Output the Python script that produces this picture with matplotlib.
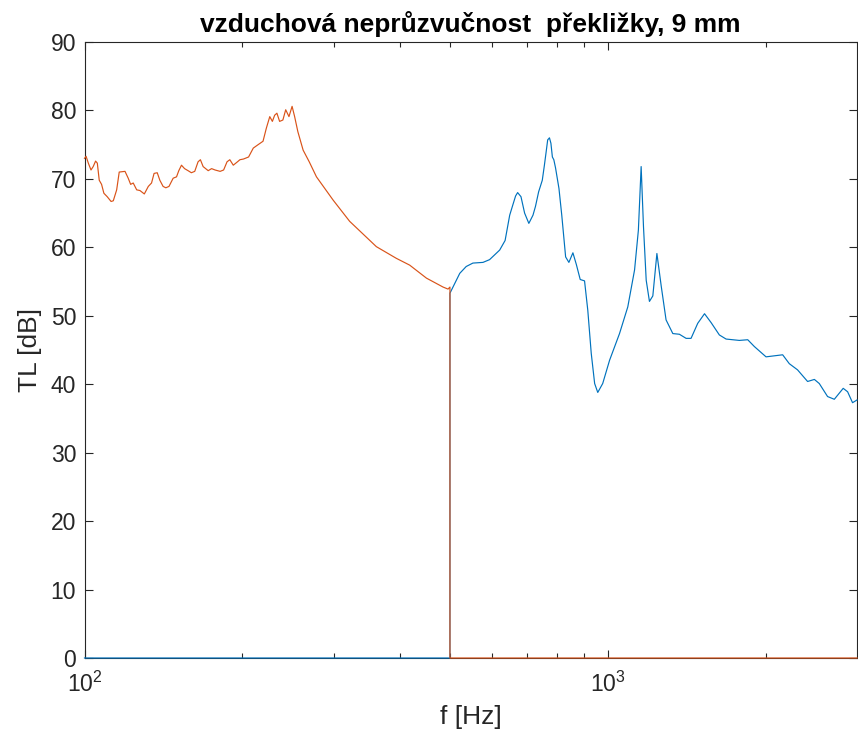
import matplotlib
matplotlib.use("Agg")
import matplotlib.pyplot as plt
from matplotlib.ticker import LogLocator, FixedLocator, NullFormatter, FixedFormatter

plt.rcParams['font.family'] = ['Liberation Sans', 'DejaVu Sans']
plt.rcParams['mathtext.fontset'] = 'custom'
plt.rcParams['mathtext.rm'] = 'Liberation Sans'
plt.rcParams['mathtext.it'] = 'Liberation Sans:italic'
plt.rcParams['mathtext.bf'] = 'Liberation Sans:bold'

# ---- data: orange series (measurement below ~500 Hz, zero above) ----
f_orange = [100, 100.7, 101.7, 102.9, 103.9, 105, 105.8, 106.7, 107.8, 108.9, 110.5,
            112.4, 113.5, 115.2, 116.5, 119.5, 121.2, 122.5, 123.9, 125.8, 127.6,
            130.1, 132.4, 134.3, 135.8, 137.7, 139.3, 141.3, 143, 145, 147.7, 149.9,
            151.4, 153.2, 155.3, 157.7, 160, 162.4, 164.8, 166.5, 168.5, 172.3, 174.9,
            177.6, 181.6, 184.4, 187.2, 189.5, 192.4, 196, 198.1, 201.2, 205.8, 210.1,
            214.6, 219.3, 222.5, 225.9, 228.5, 230.8, 233.1, 235.9, 239.3, 242.3,
            245.8, 249.2, 252, 255.6, 261.6, 268.7, 277.4, 298.5, 321, 361, 394, 418,
            450, 484, 494.8, 499, 499, 2990]
tl_orange = [73.0, 73.3, 72.3, 71.3, 71.8, 72.6, 72.3, 69.8, 69.2, 67.9, 67.4,
             66.7, 66.8, 68.4, 71.0, 71.1, 70.1, 69.2, 69.4, 68.4, 68.3,
             67.8, 68.9, 69.4, 70.8, 70.9, 69.8, 68.9, 68.7, 68.9, 70.1, 70.3,
             71.2, 72.0, 71.5, 71.2, 70.9, 71.1, 72.5, 72.8, 71.8, 71.2, 71.5,
             71.3, 71.1, 71.3, 72.5, 72.8, 72.0, 72.5, 72.8, 72.9, 73.2, 74.5,
             75.0, 75.5, 77.4, 79.1, 78.4, 79.3, 79.6, 78.4, 78.6, 80.1,
             79.1, 80.6, 79.1, 76.9, 74.2, 72.5, 70.3, 66.9, 63.8, 60.1, 58.4, 57.4,
             55.5, 54.2, 53.9, 54.2, 0.0, 0.0]

# ---- data: blue series (zero below ~500 Hz, measurement above) ----
f_blue = [100, 499, 499, 521, 536, 552, 577, 594, 621, 636, 649, 658, 666, 672, 682,
          693, 706, 719, 727, 737, 749, 756, 762, 767, 773, 778, 783, 788, 794, 806,
          816, 830, 842, 857, 870, 885, 902, 915, 929, 943, 956, 977, 1007, 1052, 1091,
          1124, 1143, 1157, 1169, 1183, 1200, 1218, 1240, 1264, 1291, 1330, 1369, 1410,
          1441, 1484, 1529, 1574, 1632, 1681, 1782, 1849, 1904, 2004, 2156, 2220, 2302,
          2406, 2479, 2533, 2627, 2706, 2814, 2869, 2932, 2990]
tl_blue = [0.0, 0.0, 53.3, 56.2, 57.2, 57.7, 57.8, 58.2, 59.6, 61.0, 64.7, 66.2, 67.5,
           68.0, 67.4, 65.0, 63.5, 64.7, 66.0, 68.1, 69.8, 72.0, 74.0, 75.7, 76.0, 75.2,
           73.2, 72.8, 71.6, 68.6, 64.7, 58.6, 57.8, 59.2, 57.5, 55.3, 55.1, 50.8, 44.5,
           40.1, 38.8, 40.1, 43.5, 47.4, 51.3, 56.7, 62.5, 71.8, 63.0, 55.2, 52.1, 52.9,
           59.1, 54.3, 49.4, 47.4, 47.3, 46.7, 46.7, 48.9, 50.3, 49.0, 47.2, 46.6, 46.4,
           46.5, 45.5, 44.0, 44.3, 43.0, 42.1, 40.4, 40.7, 40.1, 38.2, 37.8, 39.4, 38.9,
           37.3, 37.7]

y_ticks = [0, 10, 20, 30, 40, 50, 60, 70, 80, 90]
x_major = [100, 1000]
x_major_labels = ['$10^{2}$', '$10^{3}$']

title = 'vzduchová neprůzvučnost  překližky, 9 mm'
xlabel = 'f [Hz]'
ylabel = 'TL [dB]'

BLUE = '#0072BD'
ORANGE = '#D95319'
AX = '#262626'

W, H = 858, 744
fig = plt.figure(figsize=(W / 100, H / 100), dpi=100)
ax = fig.add_axes([84.5 / W, (H - 658) / H, (857 - 84.5) / W, (658 - 42) / H])

ax.plot(f_blue, tl_blue, color=BLUE, lw=0.85, clip_on=False, zorder=3)
ax.plot(f_orange, tl_orange, color=ORANGE, lw=0.85, clip_on=False, zorder=4)

ax.set_xscale('log')
ax.set_xlim(100, 2990)
ax.set_ylim(0, 90)

ax.xaxis.set_major_locator(FixedLocator(x_major))
ax.xaxis.set_major_formatter(FixedFormatter(x_major_labels))
ax.xaxis.set_minor_locator(LogLocator(base=10, subs=[2, 3, 4, 5, 6, 7, 8, 9]))
ax.xaxis.set_minor_formatter(NullFormatter())
ax.set_yticks(y_ticks)

for s in ax.spines.values():
    s.set_color(AX)
    s.set_linewidth(0.8)

ax.tick_params(which='both', direction='in', top=True, right=True, colors=AX,
               labelcolor=AX, labelsize=16.5, width=0.8)
ax.tick_params(which='major', length=6)
ax.tick_params(which='minor', length=3.5)
ax.tick_params(axis='x', which='major', pad=10)
ax.tick_params(axis='y', which='major', pad=6)

ax.set_title(title, fontsize=19, fontweight='bold', color='black', pad=7)
ax.set_xlabel(xlabel, fontsize=19, color=AX, labelpad=6)
ax.set_ylabel(ylabel, fontsize=19, color=AX, labelpad=6)

fig.savefig('out.png', dpi=100, facecolor='white')
